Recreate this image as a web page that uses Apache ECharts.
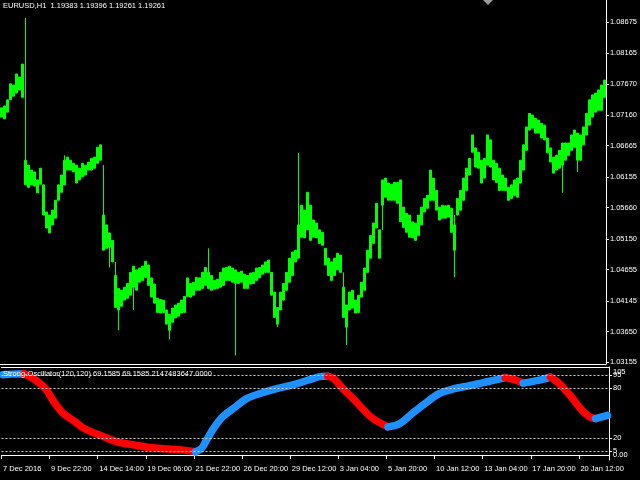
<!DOCTYPE html>
<html><head><meta charset="utf-8">
<script src="https://cdn.jsdelivr.net/npm/echarts@6/dist/echarts.min.js"></script>
<style>html,body{margin:0;padding:0;background:#000}#c{width:640px;height:480px}</style>
</head><body><div id="c"></div>
<script>
const dateLabels = ['7 Dec 2016','9 Dec 22:00','14 Dec 14:00','19 Dec 06:00','21 Dec 22:00','26 Dec 20:00','29 Dec 12:00','3 Jan 04:00','5 Jan 20:00','10 Jan 12:00','13 Jan 04:00','17 Jan 20:00','20 Jan 12:00'];
const priceTicks = [1.03155,1.03650,1.04145,1.04655,1.05150,1.05660,1.06155,1.06665,1.07160,1.07670,1.08165,1.08675];
const oscLevels = [95, 80, 20, 5];
const oscScaleTicks = [105, 0];
const oscScaleText = ['105', '0.00'];

// 4-hour slots (each = 4 H1 bars): body range of the price band
const bandHigh = [
1.0728,1.0731,1.0741,1.0767,1.0765,1.0783,1.0778,1.0799,1.0643,1.0635,
1.0627,1.0624,1.0611,1.0630,1.0603,1.0559,1.0554,1.0562,1.0578,1.0603,
1.0619,1.0643,1.0648,1.0643,1.0638,1.0635,1.0630,1.0638,1.0635,1.0640,
1.0646,1.0648,1.0664,1.0668,1.0554,1.0538,1.0525,1.0513,1.0456,1.0435,
1.0432,1.0437,1.0443,1.0461,1.0471,1.0465,1.0468,1.0471,1.0479,1.0473,
1.0452,1.0442,1.0419,1.0417,1.0416,1.0400,1.0393,1.0403,1.0408,1.0411,
1.0416,1.0422,1.0452,1.0443,1.0445,1.0453,1.0452,1.0461,1.0469,1.0461,
1.0456,1.0448,1.0450,1.0461,1.0468,1.0469,1.0471,1.0468,1.0465,1.0461,
1.0463,1.0458,1.0456,1.0460,1.0461,1.0468,1.0469,1.0473,1.0478,1.0481,
1.0461,1.0429,1.0404,1.0429,1.0443,1.0461,1.0484,1.0494,1.0497,1.0538,
1.0570,1.0562,1.0591,1.0570,1.0546,1.0541,1.0530,1.0526,1.0500,1.0484,
1.0478,1.0484,1.0492,1.0489,1.0437,1.0408,1.0429,1.0432,1.0416,1.0424,
1.0445,1.0468,1.0497,1.0521,1.0541,1.0573,1.0530,1.0611,1.0614,1.0606,
1.0604,1.0607,1.0607,1.0611,1.0567,1.0557,1.0554,1.0543,1.0541,1.0554,
1.0567,1.0581,1.0586,1.0627,1.0614,1.0594,1.0567,1.0570,1.0569,1.0570,
1.0565,1.0538,1.0581,1.0594,1.0614,1.0630,1.0646,1.0684,1.0663,1.0656,
1.0643,1.0646,1.0684,1.0676,1.0643,1.0638,1.0630,1.0619,1.0614,1.0599,
1.0603,1.0611,1.0614,1.0643,1.0668,1.0697,1.0719,1.0716,1.0711,1.0708,
1.0703,1.0700,1.0679,1.0663,1.0648,1.0651,1.0659,1.0671,1.0671,1.0671,
1.0684,1.0692,1.0687,1.0684,1.0697,1.0719,1.0741,1.0749,1.0752,1.0757,
1.0765,1.0773];
const bandLow = [
1.0713,1.0710,1.0721,1.0741,1.0747,1.0752,1.0757,1.0745,1.0603,1.0599,
1.0603,1.0601,1.0590,1.0604,1.0554,1.0533,1.0525,1.0538,1.0549,1.0578,
1.0591,1.0603,1.0627,1.0627,1.0624,1.0606,1.0611,1.0616,1.0619,1.0627,
1.0627,1.0630,1.0638,1.0643,1.0497,1.0500,1.0502,1.0478,1.0404,1.0400,
1.0406,1.0416,1.0419,1.0424,1.0437,1.0432,1.0445,1.0448,1.0453,1.0440,
1.0421,1.0411,1.0396,1.0395,1.0396,1.0377,1.0367,1.0380,1.0387,1.0390,
1.0395,1.0396,1.0422,1.0421,1.0424,1.0432,1.0432,1.0435,1.0440,1.0435,
1.0432,1.0434,1.0435,1.0437,1.0440,1.0448,1.0448,1.0445,1.0443,1.0443,
1.0445,1.0435,1.0435,1.0442,1.0443,1.0448,1.0452,1.0458,1.0461,1.0461,
1.0424,1.0388,1.0377,1.0400,1.0416,1.0432,1.0445,1.0456,1.0478,1.0484,
1.0518,1.0517,1.0530,1.0513,1.0518,1.0517,1.0508,1.0505,1.0473,1.0456,
1.0448,1.0456,1.0465,1.0461,1.0388,1.0372,1.0400,1.0403,1.0395,1.0396,
1.0421,1.0432,1.0461,1.0484,1.0508,1.0533,1.0484,1.0570,1.0583,1.0578,
1.0578,1.0578,1.0573,1.0543,1.0534,1.0526,1.0518,1.0517,1.0513,1.0521,
1.0538,1.0559,1.0565,1.0578,1.0578,1.0562,1.0546,1.0549,1.0549,1.0551,
1.0526,1.0497,1.0554,1.0562,1.0578,1.0594,1.0619,1.0656,1.0632,1.0630,
1.0606,1.0614,1.0635,1.0632,1.0611,1.0607,1.0594,1.0594,1.0594,1.0578,
1.0581,1.0586,1.0583,1.0606,1.0627,1.0659,1.0692,1.0695,1.0687,1.0687,
1.0679,1.0676,1.0655,1.0640,1.0622,1.0627,1.0630,1.0635,1.0643,1.0651,
1.0659,1.0664,1.0643,1.0643,1.0668,1.0684,1.0700,1.0713,1.0721,1.0724,
1.0724,1.0745];
// spikes beyond the band: [slot, price]
const wickHigh = [[8,1.0874],[21,1.0651],[34,1.0635],[38,1.0478],[69,1.0500],[99,1.0655],[114,1.0461],[151,1.0554]];
const wickLow = [[36,1.0469],[39,1.0367],[44,1.0400],[56,1.0352],[78,1.0326],[92,1.0372],[115,1.0343],[127,1.0530],[151,1.0453],[187,1.0590],[192,1.0624]];

// oscillator samples: slot index and value
const oscSlots = [0,3,7,10,14,17,20,24,27,33,38,44,49,55,60,64,66,68,70,73,77,81,86,91,97,102,106,108,110,113,117,120,123,128,132,136,141,145,150,154,159,163,167,170,173,178,182,185,189,192,195,197,201];
const oscValues = [95.8,96.5,97.0,91.4,79.5,63.2,49.8,39.5,31.6,22.5,15.7,11.8,9.0,7.0,5.8,3.8,7.8,19.7,31.6,45.4,56.6,67.3,73.9,79.2,84.3,89.9,93.8,94.0,91.1,79.2,65.3,53.4,43.5,33.5,37.6,49.4,63.2,73.2,79.2,81.9,85.8,89.0,92.3,89.9,85.8,89.0,93.0,85.1,69.2,55.4,45.4,43.5,47.4];

const GREEN = '#00ff00', UP = '#1e90ff', DOWN = '#ff0000', FG = '#ffffff';
const FONT = 'Liberation Sans', FS = 7.5;

const categories = bandHigh.map((_, i) => i);
const hiMap = {}, loMap = {};
wickHigh.forEach(([s, v]) => hiMap[s] = v);
wickLow.forEach(([s, v]) => loMap[s] = v);
const candles = bandHigh.map((h, i) => {
  const l = bandLow[i];
  return [l, h, Math.min(l, loMap[i] ?? l), Math.max(h, hiMap[i] ?? h)];
});

// split oscillator into rising / falling runs
const segs = [];
let dir = Math.sign(oscValues[1] - oscValues[0]);
let cur = [[oscSlots[0], oscValues[0]]];
for (let i = 1; i < oscSlots.length; i++) {
  const d = Math.sign(oscValues[i] - oscValues[i - 1]);
  if (d !== 0 && d !== dir) { segs.push({dir, pts: cur}); cur = [[oscSlots[i - 1], oscValues[i - 1]]]; dir = d; }
  cur.push([oscSlots[i], oscValues[i]]);
}
segs.push({dir, pts: cur});

const oscSeries = segs.map(s => ({
  type: 'line', xAxisIndex: 1, yAxisIndex: 1, data: s.pts, smooth: 0.35,
  symbol: 'none', silent: true, z: 4,
  lineStyle: {width: 7.5, color: s.dir > 0 ? UP : DOWN, cap: 'round', join: 'round'}
}));

const txt = {color: FG, fontFamily: FONT, fontSize: FS};
const chart = echarts.init(document.getElementById('c'));
chart.setOption({
  backgroundColor: '#000',
  animation: false,
  title: [
    {text: 'EURUSD,H1  1.19383 1.19396 1.19261 1.19261', left: 3, top: 2, padding: 0,
     textStyle: Object.assign({fontWeight: 'normal'}, txt)},
    {text: 'Strong-Oscillator(120,120) 69.1585 69.1585 2147483647.0000', left: 3, top: 370, padding: 0,
     textStyle: Object.assign({fontWeight: 'normal'}, txt)}
  ],
  grid: [
    {left: 0, right: 31, top: 0, height: 364},
    {left: 0, right: 31, top: 367, height: 93}
  ],
  xAxis: [
    {type: 'category', gridIndex: 0, data: categories, position: 'bottom',
     axisLine: {lineStyle: {color: FG, width: 1}}, axisTick: {show: false}, axisLabel: {show: false}},
    {type: 'category', gridIndex: 1, data: categories, position: 'bottom',
     axisLine: {lineStyle: {color: FG, width: 1}},
     axisTick: {show: true, interval: 15, length: 4, lineStyle: {color: FG}},
     axisLabel: Object.assign({interval: 15, align: 'left', margin: 5,
       formatter: (v, idx) => (idx % 16 === 0 ? (dateLabels[idx / 16] || '') : '')}, txt)},
    {type: 'category', gridIndex: 1, data: categories, position: 'top',
     axisLine: {lineStyle: {color: FG, width: 1}}, axisTick: {show: false}, axisLabel: {show: false}}
  ],
  yAxis: [
    {type: 'value', gridIndex: 0, position: 'right', min: 1.03123, max: 1.0903, scale: true,
     axisLine: {show: true, lineStyle: {color: FG, width: 1}},
     axisTick: {show: true, length: 3, customValues: priceTicks, lineStyle: {color: FG}},
     axisLabel: Object.assign({customValues: priceTicks, margin: 4, formatter: v => v.toFixed(5)}, txt),
     splitLine: {show: false}},
    {type: 'value', gridIndex: 1, position: 'right', min: -6, max: 105,
     axisLine: {show: true, lineStyle: {color: FG, width: 1}},
     axisTick: {show: true, length: 3, customValues: oscLevels, lineStyle: {color: FG}},
     axisLabel: Object.assign({customValues: oscLevels, margin: 4, formatter: v => String(v)}, txt),
     splitLine: {show: false}}
  ],
  series: [
    {type: 'candlestick', xAxisIndex: 0, yAxisIndex: 0, data: candles, barWidth: '100%', silent: true,
     itemStyle: {color: GREEN, color0: GREEN, borderColor: GREEN, borderColor0: GREEN, borderWidth: 1}},
    {type: 'line', xAxisIndex: 1, yAxisIndex: 1, data: oscSlots.map((s, i) => [s, oscValues[i]]),
     symbol: 'none', silent: true, z: 1, lineStyle: {opacity: 0},
     markLine: {silent: true, symbol: ['none', 'none'], label: {show: false},
       lineStyle: {type: [2, 2], color: '#d0d0d0', width: 1},
       data: oscLevels.map(v => ({yAxis: v}))}}
  ].concat(oscSeries)
});

// window scale labels of the oscillator pane (max drawn below the pane top, min at its value)
const gridTop = chart.convertToPixel({yAxisIndex: 1}, 105);
const scaleGraphics = oscScaleTicks.map((v, i) => {
  const y = chart.convertToPixel({yAxisIndex: 1}, v);
  return {type: 'text', x: 613, y: i === 0 ? gridTop + 1 : y, silent: true, z: 100,
    style: {text: oscScaleText[i], fill: FG, font: FS + 'px "' + FONT + '"',
      textVerticalAlign: i === 0 ? 'top' : 'middle', verticalAlign: i === 0 ? 'top' : 'middle'}};
});
scaleGraphics.push({type: 'polygon', shape: {points: [[483, 0], [493, 0], [488, 5]]}, style: {fill: '#9a9a9a'}, silent: true});
chart.setOption({graphic: scaleGraphics});
</script></body></html>
